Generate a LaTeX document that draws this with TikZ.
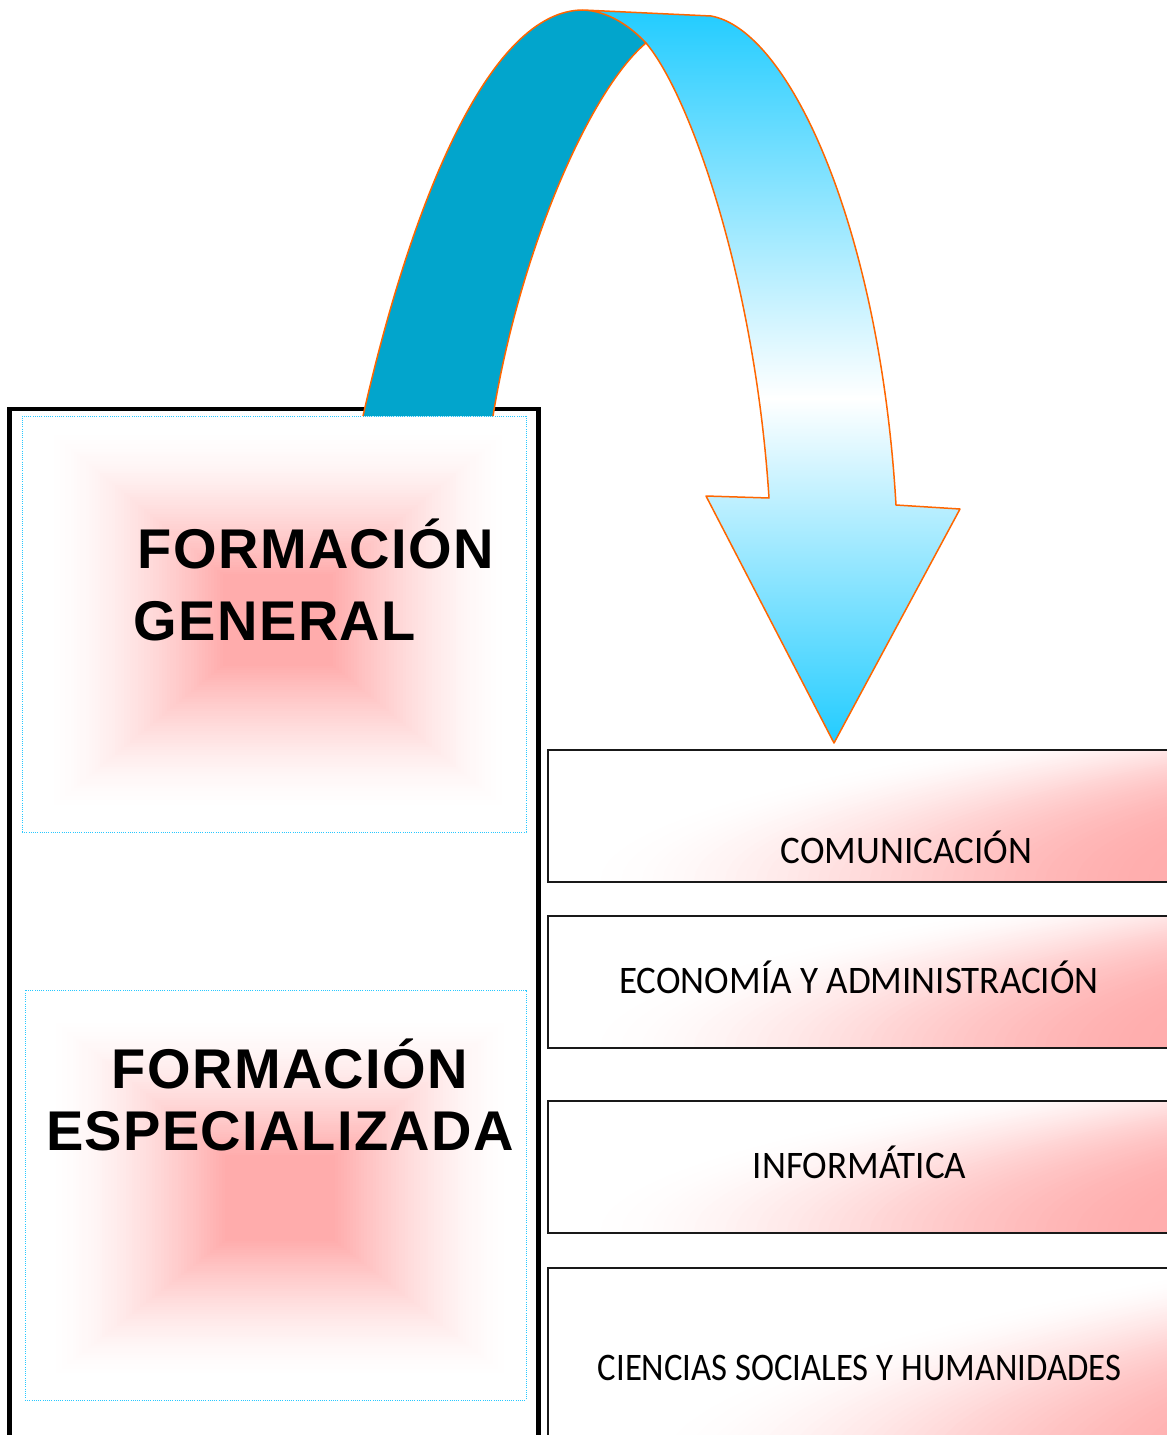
\documentclass[tikz,border=0pt]{standalone}
\usepackage{fontspec}
\setmainfont{Liberation Sans}
\newfontfamily\boldspaced{Liberation Sans Bold}[LetterSpace=2.5]
\newfontfamily\narrowfont{Carlito}[FakeStretch=0.95]
\newfontfamily\narrowerfont{Carlito}[FakeStretch=0.89]
\usetikzlibrary{calc}
\definecolor{tealdark}{RGB}{2,165,204}
\definecolor{cyanc}{RGB}{34,204,255}
\definecolor{orangec}{RGB}{255,102,0}
\definecolor{pinkc}{RGB}{255,172,172}
\definecolor{dotc}{RGB}{40,200,255}
\pgfdeclareverticalshading{bandshade}{100bp}{color(0bp)=(cyanc); color(25bp)=(cyanc); color(48.5bp)=(white); color(75bp)=(cyanc); color(100bp)=(cyanc)}
% #1 top, #2 clip bottom, #3 reference bottom, #4 x where pink starts at bottom, #5 ramp width, #6 curvature length
\newcommand\pinkgrad[6]{%
  \begin{scope}
    \clip (547,#1) rectangle (1180,#2);
    \foreach \i in {0,...,60}{%
      \pgfmathsetmacro\pp{\i/60}
      \pgfmathsetmacro\pc{100*(3*\pp*\pp-2*\pp*\pp*\pp)}
      \fill[pinkc!\pc!white] (3000,#2) -- plot[domain=#2:#1, samples=15, variable=\t]
        ({#4+#5*\pp+((#3-\t)/#6)*((#3-\t)/#6)}, {\t}) -- (3000,#1) -- cycle;
    }
  \end{scope}}
\tikzset{
  bigbox/.style={draw=black, line width=4.5pt, minimum width=529pt, minimum height=1036pt, inner sep=0pt},
  dotbox/.style={draw=dotc, line width=0.8pt, dash pattern=on 1pt off 1.2pt, inner sep=0pt},
  rbox/.style={draw=black!90, line width=1.8pt, minimum width=628pt, inner sep=0pt, anchor=north west},
  lbl/.style={font=\boldspaced\fontsize{56}{60}\selectfont, inner sep=0pt, anchor=base},
  rlbl/.style={font=\narrowfont\fontsize{39}{44}\selectfont, inner sep=0pt, anchor=base},
  rlbln/.style={font=\narrowerfont\fontsize{39}{44}\selectfont, inner sep=0pt, anchor=base},
  outl/.style={draw=orangec, line width=1.5pt, line join=round}
}
\begin{document}
\begin{tikzpicture}[x=1pt,y=-1pt]
\useasboundingbox (0,0) rectangle (1167,1435);
\clip (0,0) rectangle (1167,1435);
\fill[white] (0,0) rectangle (1167,1435);

% main frame
\node[bigbox] (main) at (274,927) {};

% glows
\coordinate (g1) at (278,620);
\coordinate (g2) at (280,1198);
\foreach \i in {0,...,60}{%
  \pgfmathsetmacro{\ff}{\i/60}
  \pgfmathsetmacro{\pc}{100*\ff*sqrt(\ff)}
  \pgfmathsetmacro{\hx}{230*(1-0.76*\ff)}
  \pgfmathsetmacro{\hy}{190*(1-0.76*\ff)}
  \pgfmathsetmacro{\hyb}{180*(1-0.76*\ff)}
  \fill[pinkc!\pc!white] ($(g1)+(-\hx,-\hy)$) rectangle ($(g1)+(\hx,\hy)$);
  \fill[pinkc!\pc!white] ($(g2)+(-\hx,-\hyb)$) rectangle ($(g2)+(\hx,\hyb)$);
}

% dotted inner frames
\node[dotbox, minimum width=504pt, minimum height=416pt] (d1) at (274,624) {};
\node[dotbox, minimum width=501pt, minimum height=410pt] (d2) at (275.5,1195) {};

% left labels
\node[lbl] (t1) at (316,568) {FORMACIÓN};
\node[lbl] (t2) at (275,640) {GENERAL};
\node[lbl] (t3) at (290,1088) {FORMACIÓN};
\node[lbl] (t4) at (280,1150) {ESPECIALIZADA};

% right boxes: gradient fills, then frames
\pinkgrad{749}{881}{881}{570}{620}{6.8}
\pinkgrad{915}{1047}{1047}{570}{620}{6.8}
\pinkgrad{1100}{1232}{1232}{570}{620}{6.8}
\pinkgrad{1267}{1467}{1467}{630}{620}{8.3}
\node[rbox, minimum height=132pt] (b1) at (547,749) {};
\node[rbox, minimum height=132pt] (b2) at (547,915) {};
\node[rbox, minimum height=132pt] (b3) at (547,1100) {};
\node[rbox, minimum height=200pt] (b4) at (547,1267) {};

\node[rlbl] (r1) at (906.5,863) {COMUNICACIÓN};
\node[rlbl] (r2) at (859,993) {ECONOMÍA Y ADMINISTRACIÓN};
\node[rlbl] (r3) at (859.5,1178) {INFORMÁTICA};
\node[rlbln] (r4) at (859.5,1380) {CIENCIAS SOCIALES Y HUMANIDADES};

% curved arrow
\coordinate (LO) at (363,416);
\coordinate (LI) at (493,416);
\coordinate (P) at (583,10);
\coordinate (F) at (646,43);
\coordinate (RO) at (711,16);
\coordinate (RI) at (769,498);
\coordinate (BL) at (706,496);
\coordinate (T) at (834,743);
\coordinate (BR) at (960,509);
\coordinate (ROe) at (896,505);

\fill[tealdark] (LO) .. controls (412,200) and (490,10) .. (P)
  .. controls (608,11) and (630,26) .. (F)
  .. controls (590,90) and (520,250) .. (LI) -- cycle;
\shade[shading=bandshade] (P) -- (RO) .. controls (790,30) and (880,230) .. (ROe)
  -- (BR) -- (T) -- (BL) -- (RI)
  .. controls (755,280) and (690,95) .. (F)
  .. controls (630,26) and (608,11) .. (P) -- cycle;
\draw[outl] (LO) .. controls (412,200) and (490,10) .. (P);
\draw[outl] (LI) .. controls (520,250) and (590,90) .. (F);
\draw[outl] (P) -- (RO) .. controls (790,30) and (880,230) .. (ROe)
  -- (BR) -- (T) -- (BL) -- (RI)
  .. controls (755,280) and (690,95) .. (F)
  .. controls (630,26) and (608,11) .. (P) -- cycle;
\end{tikzpicture}
\end{document}
